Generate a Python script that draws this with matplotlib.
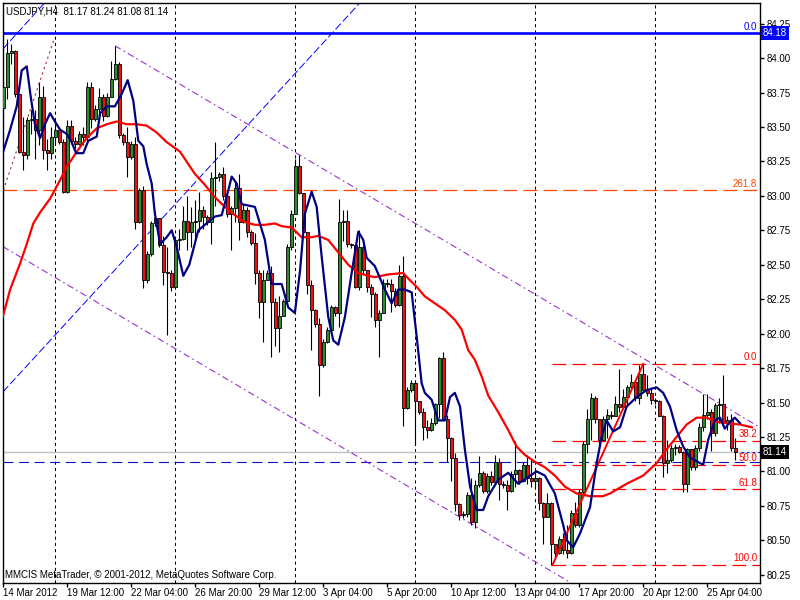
import numpy as np
import matplotlib.pyplot as plt

plt.rcParams['font.family'] = ['Liberation Sans', 'DejaVu Sans']

# USDJPY H4 bars (index 0 = 14 Mar 2012), open of a bar = close of the previous one
open0 = 83.64
closes = [83.79, 84.04, 84.05, 83.74, 83.32, 83.30, 83.55, 83.56, 83.48, 83.72,
          83.33, 83.31, 83.43, 83.48, 83.39, 83.03, 83.51, 83.40, 83.38, 83.45,
          83.43, 83.79, 83.56, 83.63, 83.72, 83.58, 83.72, 83.85, 83.96, 83.44,
          83.39, 83.28, 83.38, 82.81, 83.04, 82.39, 82.58, 82.80, 82.84, 82.64,
          82.45, 82.44, 82.34, 82.68, 82.69, 82.82, 82.74, 82.81, 82.82, 82.90,
          82.85, 82.81, 83.13, 83.14, 83.16, 83.00, 82.87, 82.91, 83.06, 82.81,
          82.90, 82.74, 82.66, 82.44, 82.23, 82.39, 82.44, 82.23, 82.04, 82.13,
          82.24, 82.63, 82.87, 83.22, 83.02, 82.74, 82.35, 82.17, 82.07, 81.77,
          81.94, 82.03, 82.19, 82.15, 82.81, 82.82, 82.65, 82.64, 82.34, 82.63,
          82.46, 82.34, 82.29, 82.10, 82.15, 82.37, 82.36, 82.31, 82.21, 82.42,
          81.46, 81.59, 81.64, 81.51, 81.43, 81.32, 81.30, 81.35, 81.49, 81.82,
          81.38, 81.24, 81.10, 80.76, 80.68, 80.69, 80.83, 80.63, 80.90, 80.99,
          80.86, 80.97, 80.92, 81.07, 80.91, 80.90, 80.86, 80.98, 81.01, 80.93,
          81.05, 80.95, 80.93, 80.95, 80.77, 80.67, 80.77, 80.47, 80.41, 80.51,
          80.43, 80.41, 80.70, 80.61, 80.85, 81.20, 81.38, 81.53, 81.38, 81.23,
          81.38, 81.41, 81.40, 81.49, 81.47, 81.54, 81.61, 81.65, 81.53, 81.71,
          81.59, 81.57, 81.52, 81.51, 81.40, 81.06, 81.08, 81.17, 81.18, 81.14,
          80.91, 81.16, 81.03, 81.17, 81.32, 81.41, 81.43, 81.28, 81.48, 81.49,
          81.35, 81.37, 81.17, 81.14]
highs = [83.84, 84.14, 84.10, 84.06, 83.74, 83.57, 83.57, 83.62, 83.62, 83.83,
         83.80, 83.41, 83.50, 83.52, 83.50, 83.41, 83.55, 83.55, 83.43, 83.47,
         83.50, 83.83, 83.83, 83.66, 83.78, 83.74, 83.75, 83.98, 84.09, 83.97,
         83.46, 83.50, 83.40, 83.43, 83.06, 83.07, 82.60, 82.82, 82.88, 82.84,
         82.71, 82.63, 82.46, 82.70, 82.76, 82.93, 83.00, 82.92, 82.97, 83.03,
         82.93, 82.86, 83.17, 83.39, 83.17, 83.21, 83.04, 82.93, 83.11, 83.16,
         82.94, 82.92, 82.75, 82.73, 82.46, 82.46, 82.46, 82.49, 82.26, 82.27,
         82.25, 82.65, 82.90, 83.27, 83.30, 83.02, 82.74, 82.39, 82.18, 82.11,
         81.96, 82.05, 82.21, 82.20, 82.98, 82.90, 82.90, 82.66, 82.65, 82.75,
         82.64, 82.46, 82.36, 82.30, 82.17, 82.40, 82.40, 82.40, 82.33, 82.50,
         82.56, 81.61, 81.66, 81.66, 81.51, 81.46, 81.37, 81.39, 81.50, 81.83,
         81.87, 81.41, 81.25, 81.13, 80.77, 80.71, 80.85, 80.95, 80.94, 81.11,
         81.00, 80.99, 81.00, 81.12, 81.10, 80.93, 80.94, 81.00, 81.22, 81.02,
         81.07, 81.12, 81.09, 81.02, 80.96, 80.78, 80.84, 80.78, 80.46, 80.53,
         80.55, 80.61, 80.72, 80.78, 80.87, 81.22, 81.45, 81.57, 81.55, 81.38,
         81.40, 81.45, 81.44, 81.55, 81.74, 81.60, 81.63, 81.71, 81.66, 81.77,
         81.78, 81.70, 81.61, 81.53, 81.52, 81.41, 81.23, 81.19, 81.20, 81.19,
         81.15, 81.17, 81.16, 81.19, 81.35, 81.56, 81.56, 81.45, 81.50, 81.53,
         81.70, 81.40, 81.42, 81.24]
lows = [83.57, 83.70, 83.96, 83.72, 83.31, 83.19, 83.27, 83.45, 83.27, 83.37,
        83.27, 83.19, 83.27, 83.38, 83.38, 83.02, 83.02, 83.38, 83.35, 83.37,
        83.37, 83.40, 83.49, 83.54, 83.55, 83.54, 83.57, 83.72, 83.84, 83.42,
        83.37, 83.14, 83.27, 82.76, 82.80, 82.33, 82.37, 82.56, 82.78, 82.63,
        82.35, 81.99, 82.31, 82.33, 82.61, 82.68, 82.61, 82.63, 82.67, 82.74,
        82.76, 82.79, 82.65, 82.93, 83.11, 82.97, 82.85, 82.61, 82.81, 82.68,
        82.80, 82.70, 82.64, 82.36, 82.11, 81.94, 82.39, 81.83, 81.91, 81.87,
        82.13, 82.22, 82.61, 82.87, 83.01, 82.73, 82.29, 81.88, 82.05, 81.55,
        81.76, 81.93, 82.02, 82.13, 82.05, 82.67, 82.63, 82.62, 82.33, 82.32,
        82.43, 82.30, 82.12, 82.05, 81.83, 82.15, 82.34, 82.16, 82.19, 82.20,
        81.33, 81.45, 81.58, 81.19, 81.42, 81.23, 81.24, 81.29, 81.34, 81.39,
        81.37, 81.07, 80.93, 80.71, 80.65, 80.66, 80.67, 80.61, 80.59, 80.89,
        80.84, 80.84, 80.90, 80.90, 80.79, 80.88, 80.72, 80.85, 80.89, 80.91,
        80.92, 80.91, 80.89, 80.87, 80.72, 80.47, 80.67, 80.32, 80.38, 80.40,
        80.40, 80.37, 80.40, 80.60, 80.60, 80.83, 81.13, 81.23, 81.35, 81.20,
        81.22, 81.24, 81.38, 81.40, 81.43, 81.45, 81.48, 81.59, 81.51, 81.49,
        81.58, 81.55, 81.49, 81.49, 81.40, 80.96, 80.99, 81.07, 81.12, 81.13,
        80.85, 80.85, 81.01, 81.01, 81.15, 81.29, 81.38, 81.15, 81.26, 81.35,
        81.32, 81.30, 81.15, 81.08]
opens = [open0] + closes[:-1]

# moving averages (bar index, price)
red_ma_x = [-0.15, 1.7, 4.2, 5.85, 7.5, 9.2, 11.7, 13.75, 15.85, 18.35, 20.85, 23.35,
            25.85, 28.35, 30.85, 33.35, 35.85, 38.35, 40.85, 44.2, 46.5, 47.9, 50.4,
            52.9, 55.4, 57.9, 60.4, 62.9, 65.4, 67.9, 69.6, 72.1, 74.6, 77.1, 78.75,
            81.25, 83.75, 86.25, 88.75, 91.25, 92.9, 96.25, 100, 101.25, 103.35, 105.4,
            107.9, 110.4, 112.9, 114.6, 116.25, 117.9, 119.6, 121.25, 123.75, 126.25,
            128.35, 130.4, 132.9, 135.4, 137.9, 140.4, 143.35, 146.7, 149.9, 151.7,
            155.85, 160, 163.35, 165.85, 168.35, 170.85, 173.35, 175.85, 178.35,
            180.85, 184.2, 187.2]
red_ma_y = [82.12, 82.32, 82.51, 82.65, 82.80, 82.88, 82.98, 83.09, 83.21, 83.32, 83.42,
            83.49, 83.52, 83.54, 83.52, 83.52, 83.51, 83.46, 83.39, 83.32, 83.22, 83.16,
            83.08, 82.99, 82.92, 82.86, 82.81, 82.79, 82.79, 82.80, 82.78, 82.77, 82.70,
            82.70, 82.71, 82.68, 82.59, 82.50, 82.44, 82.42, 82.41, 82.43, 82.44, 82.40,
            82.34, 82.27, 82.22, 82.17, 82.10, 82.03, 81.88, 81.81, 81.69, 81.55, 81.43,
            81.30, 81.18, 81.12, 81.07, 81.03, 80.97, 80.89, 80.84, 80.82, 80.82, 80.84,
            80.91, 80.97, 81.06, 81.16, 81.25, 81.34, 81.39, 81.39, 81.36, 81.35, 81.34,
            81.32]
navy_ma_x = [-0.15, 1.7, 3.35, 4.6, 5.85, 6.85, 7.9, 9.2, 10.4, 11.7, 12.9, 14.2, 15.85,
             17.1, 18.2, 20, 21.25, 23.35, 24.2, 25.85, 27.9, 29.6, 31.1, 32.5, 33.75,
             35, 35.85, 37.1, 37.9, 39.2, 40.85, 42.1, 43.35, 45, 46.5, 48.75, 50.4,
             52.9, 54.6, 56.25, 57.1, 58.35, 59.6, 61.25, 62.9, 65.4, 67.1, 69.6, 71.25,
             72.9, 74.2, 75.4, 77.1, 78.35, 79.6, 81.25, 82.5, 83.75, 85.4, 87.1, 88.75,
             90, 90.85, 92.9, 95.4, 97.1, 98.75, 100.4, 102.1, 103.35, 104.6, 105.4,
             107.1, 108.75, 110.4, 111.7, 112.9, 114.2, 115.4, 116.7, 118.35, 120,
             121.25, 123.75, 126.25, 128.75, 131.25, 133.35, 135.4, 137.9, 140, 140.85,
             142.5, 144.2, 146.7, 148.35, 149.6, 150.85, 152.5, 154.2, 155.85, 158.35,
             160.85, 163.35, 165, 166.7, 168.35, 170, 171.7, 174.2, 175, 176.25, 177.9,
             179.2, 180.4, 181.7, 182.9, 184.2]
navy_ma_y = [83.31, 83.48, 83.65, 83.91, 83.94, 83.72, 83.52, 83.42, 83.52, 83.60, 83.54,
             83.48, 83.45, 83.39, 83.31, 83.31, 83.40, 83.43, 83.60, 83.65, 83.65, 83.74,
             83.84, 83.69, 83.40, 83.36, 83.23, 83.09, 82.87, 82.65, 82.70, 82.75, 82.63,
             82.42, 82.50, 82.75, 82.79, 82.85, 82.86, 83.04, 83.14, 83.09, 82.94, 82.93,
             82.92, 82.68, 82.36, 82.36, 82.19, 82.15, 82.46, 82.87, 83.03, 82.92, 82.56,
             82.12, 81.95, 81.92, 82.12, 82.44, 82.74, 82.68, 82.55, 82.49, 82.32, 82.22,
             82.32, 82.32, 82.30, 81.98, 81.64, 81.57, 81.52, 81.37, 81.37, 81.54, 81.57,
             81.47, 81.16, 80.89, 80.72, 80.72, 80.82, 80.94, 80.99, 80.91, 80.96, 81.00,
             80.97, 80.84, 80.61, 80.50, 80.45, 80.55, 80.74, 81.06, 81.25, 81.37, 81.29,
             81.32, 81.47, 81.54, 81.59, 81.61, 81.57, 81.47, 81.30, 81.18, 81.10, 81.06,
             81.05, 81.23, 81.37, 81.39, 81.31, 81.36, 81.39, 81.35]

# time axis labels, one every 16 bars
tick_bars = [0, 16, 32, 48, 64, 80, 96, 112, 128, 144, 160, 176]
tick_labels = ['14 Mar 2012', '19 Mar 12:00', '22 Mar 04:00', '26 Mar 20:00',
               '29 Mar 12:00', '3 Apr 04:00', '5 Apr 20:00', '10 Apr 12:00',
               '13 Apr 04:00', '17 Apr 20:00', '20 Apr 12:00', '25 Apr 04:00']
week_seps = [13, 43, 73, 103, 133, 163]

# fibonacci objects
fib_top_levels = [84.18, 83.04]
fib_top_labels = ['0.0', '261.8']
fib_levels = [81.78, 81.22, 81.05, 80.87, 80.32]
fib_labels = ['0.0', '38.2', '50.0', '61.8', '100.0']
fib_start = 137.3
fib_low = (137.3, 80.32)
fib_high = (160.0, 81.78)

bid = 81.14
ask_line = 81.07

XMIN, XMAX = -0.08, 189.2
YMIN, YMAX = 80.19, 84.40

fig = plt.figure(figsize=(8, 6), dpi=100)
ax = fig.add_axes([3 / 800, 17 / 600, 757 / 800, 580 / 600])
ax.set_xlim(XMIN, XMAX)
ax.set_ylim(YMIN, YMAX)

# period separators
for s in week_seps:
    ax.axvline(s, color='black', lw=0.75, ls=(0, (3, 3)), zorder=1)

# horizontal lines
ax.axhline(bid, color='#c0c0c0', lw=1, zorder=1)
ax.axhline(ask_line, color='#1010c0', lw=0.8, ls=(0, (9, 5)), zorder=1)
ax.hlines(bid, 184.4, XMAX, color='#1010ff', lw=0.8, ls=(0, (2, 3)), zorder=1)
ax.axhline(fib_top_levels[0], color='#0000ff', lw=1.9, zorder=2)
ax.axhline(fib_top_levels[1], color='#ff4500', lw=0.9, ls=(0, (11, 5)), zorder=2)
ax.hlines(fib_levels, fib_start, XMAX, color='#ff0000', lw=0.9, ls=(0, (11, 5)), zorder=2)

# channels / trend lines
ax.axline((0, 81.58), (48.35, 83.11), color='#0000ff', lw=0.7, ls=(0, (8, 3)), zorder=2)
ax.axline((0, 84.07), (10, 84.39), color='#0000ff', lw=0.7, ls=(0, (8, 3)), zorder=2)
ax.plot([27.9, 195], [84.09, 81.22], color='#9932cc', lw=0.8, ls=(0, (6, 3, 1.5, 3)), zorder=2)
ax.axline((0, 82.63), (142, 80.19), color='#9932cc', lw=0.8, ls=(0, (6, 3, 1.5, 3)), zorder=2)
ax.plot([0, 12.6], [83.04, 84.13], color='#a52a2a', lw=0.8, ls=(0, (2, 3)), zorder=2)
ax.plot([fib_low[0], fib_high[0]], [fib_low[1], fib_high[1]], color='#ff0000', lw=1.4, zorder=5)

# candles
idx = np.arange(len(closes))
o = np.array(opens)
c = np.array(closes)
up = c >= o
body_lo = np.minimum(o, c)
body_h = np.maximum(np.abs(c - o), 0.007)
ax.vlines(idx, lows, highs, color='black', lw=0.8, zorder=3)
ax.bar(idx[up], body_h[up], bottom=body_lo[up], width=0.72, color='#2e8b2e',
       edgecolor='black', lw=0.6, zorder=4)
ax.bar(idx[~up], body_h[~up], bottom=body_lo[~up], width=0.72, color='#ee1111',
       edgecolor='black', lw=0.6, zorder=4)

# moving averages
ax.plot(red_ma_x, red_ma_y, color='#ff0000', lw=1.6, zorder=6)
ax.plot(navy_ma_x, navy_ma_y, color='#000080', lw=1.6, zorder=6)

# level labels
ax.text(188.5, fib_top_levels[0] + 0.012, fib_top_labels[0], color='#0000ff',
        ha='right', va='bottom', fontsize=7)
ax.text(188.5, fib_top_levels[1] + 0.012, fib_top_labels[1], color='#ff4500',
        ha='right', va='bottom', fontsize=7)
for lv, lb in zip(fib_levels, fib_labels):
    ax.text(188.5, lv + 0.012, lb, color='#ff0000', ha='right', va='bottom', fontsize=7)

# axes
yt = np.arange(80.25, 84.26, 0.25)
ax.yaxis.tick_right()
ax.set_yticks(yt)
ax.set_yticklabels([f'{v:.2f}' for v in yt])
ax.tick_params(axis='y', direction='out', length=3, width=1, labelsize=7, pad=2)
ax.set_xticks(tick_bars)
ax.set_xticklabels(tick_labels)
for lbl in ax.get_xticklabels():
    lbl.set_horizontalalignment('left')
ax.tick_params(axis='x', direction='out', length=3, width=1, labelsize=7, pad=0.5)
for sp in ax.spines.values():
    sp.set_color('black')
    sp.set_linewidth(1)

# price boxes on the right scale
trans = ax.get_yaxis_transform()
ax.text(1.004, fib_top_levels[0], '84.18', transform=trans, color='white', fontsize=7,
        ha='left', va='center', clip_on=False,
        bbox=dict(boxstyle='square,pad=0.22', fc='#0000ff', ec='none'))
ax.text(1.004, bid, '81.14', transform=trans, color='white', fontsize=7,
        ha='left', va='center', clip_on=False,
        bbox=dict(boxstyle='square,pad=0.22', fc='black', ec='none'))

fig.text(6 / 800, 1 - 11 / 600, 'USDJPY,H4  81.17 81.24 81.08 81.14', fontsize=7,
         ha='left', va='center')
fig.text(5 / 800, 1 - 575 / 600, 'MMCIS MetaTrader, \u00a9 2001-2012, MetaQuotes Software Corp.',
         fontsize=7, ha='left', va='center')

fig.savefig('out.png', dpi=100, facecolor='white')
